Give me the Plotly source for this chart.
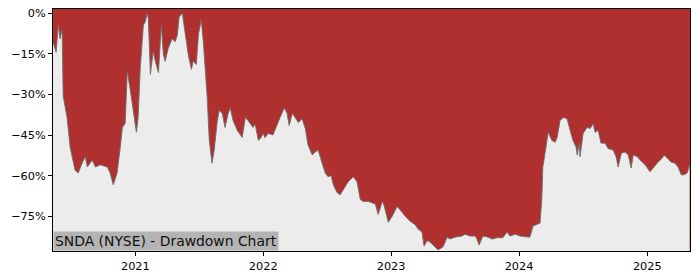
import plotly.graph_objects as go

dates = [
    "2020-05-11", "2020-05-20", "2020-05-26", "2020-05-31", "2020-06-06", "2020-06-09",
    "2020-06-20", "2020-06-29", "2020-07-13", "2020-07-22", "2020-08-02", "2020-08-11",
    "2020-08-17", "2020-08-31", "2020-09-09", "2020-09-23", "2020-10-13", "2020-10-21",
    "2020-10-30", "2020-11-10", "2020-11-19", "2020-11-25", "2020-12-03", "2020-12-09",
    "2020-12-18", "2020-12-26", "2021-01-04", "2021-01-09", "2021-01-15", "2021-01-24",
    "2021-01-29", "2021-02-04", "2021-02-07", "2021-02-13", "2021-02-21", "2021-02-27",
    "2021-03-08", "2021-03-16", "2021-03-22", "2021-03-27", "2021-04-05", "2021-04-16",
    "2021-04-25", "2021-05-01", "2021-05-06", "2021-05-15", "2021-05-23", "2021-06-01",
    "2021-06-10", "2021-06-15", "2021-06-24", "2021-06-30", "2021-07-08", "2021-07-14",
    "2021-07-25", "2021-07-31", "2021-08-08", "2021-08-14", "2021-08-23", "2021-08-28",
    "2021-09-06", "2021-09-14", "2021-09-23", "2021-09-29", "2021-10-07", "2021-10-19",
    "2021-11-02", "2021-11-11", "2021-11-19", "2021-12-03", "2021-12-09", "2021-12-18",
    "2021-12-26", "2022-01-01", "2022-01-06", "2022-01-15", "2022-01-29", "2022-02-10",
    "2022-02-18", "2022-03-02", "2022-03-10", "2022-03-16", "2022-03-25", "2022-04-02",
    "2022-04-11", "2022-04-22", "2022-05-01", "2022-05-09", "2022-05-21", "2022-05-29",
    "2022-06-07", "2022-06-18", "2022-06-27", "2022-07-05", "2022-07-14", "2022-07-20",
    "2022-07-31", "2022-08-09", "2022-08-17", "2022-08-31", "2022-09-15", "2022-09-26",
    "2022-10-05", "2022-10-13", "2022-10-28", "2022-11-08", "2022-11-17", "2022-11-25",
    "2022-12-07", "2022-12-12", "2022-12-24", "2023-01-04", "2023-01-18", "2023-01-26",
    "2023-02-10", "2023-02-24", "2023-03-10", "2023-03-19", "2023-03-30", "2023-04-05",
    "2023-04-14", "2023-04-22", "2023-05-06", "2023-05-15", "2023-05-29", "2023-06-10",
    "2023-06-18", "2023-07-02", "2023-07-22", "2023-07-31", "2023-08-14", "2023-08-29",
    "2023-09-03", "2023-09-09", "2023-09-20", "2023-10-05", "2023-10-16", "2023-10-30",
    "2023-11-16", "2023-11-28", "2023-12-06", "2023-12-21", "2024-01-04", "2024-01-24",
    "2024-02-01", "2024-02-10", "2024-02-21", "2024-03-01", "2024-03-06", "2024-03-09",
    "2024-03-18", "2024-03-24", "2024-04-04", "2024-04-13", "2024-04-19", "2024-04-27",
    "2024-05-06", "2024-05-17", "2024-05-26", "2024-06-03", "2024-06-12", "2024-06-15",
    "2024-06-21", "2024-06-23", "2024-07-02", "2024-07-13", "2024-07-22", "2024-07-31",
    "2024-08-05", "2024-08-14", "2024-08-22", "2024-09-03", "2024-09-11", "2024-09-26",
    "2024-10-04", "2024-10-10", "2024-10-19", "2024-10-30", "2024-11-08", "2024-11-16",
    "2024-11-22", "2024-12-04", "2024-12-12", "2024-12-26", "2025-01-09", "2025-01-18",
    "2025-01-29", "2025-02-13", "2025-02-18", "2025-02-27", "2025-03-10", "2025-03-21",
    "2025-03-30", "2025-04-08", "2025-04-16", "2025-04-25", "2025-05-02",
]

drawdown = [
    -10.6, -14.5, -4.4, -9.5, -6.2, -30.6,
    -38.5, -49.5, -58.0, -59.0, -55.4, -53.0,
    -56.8, -54.3, -56.8, -56.0, -56.8, -59.0,
    -63.4, -59.0, -49.5, -42.2, -40.8, -21.5,
    -28.8, -36.0, -44.0, -38.5, -20.4, -4.4,
    -3.3, 0.0, -2.0, -22.6, -14.2, -17.8,
    -22.0, -4.4, -15.3, -17.8, -13.0, -9.5,
    -10.6, -8.0, -1.5, 0.0, -8.0, -15.3,
    -20.8, -17.8, -19.0, -8.0, -2.5, -10.6,
    -31.0, -47.0, -55.4, -50.6, -39.7, -36.0,
    -37.0, -42.2, -37.0, -35.0, -39.7, -43.3,
    -45.9, -38.5, -39.7, -42.2, -41.0, -47.0,
    -45.9, -44.4, -46.0, -44.4, -45.0, -40.8,
    -38.5, -35.0, -37.0, -41.5, -37.0, -38.5,
    -40.4, -39.0, -42.6, -48.8, -52.4, -51.3,
    -50.6, -55.4, -59.0, -60.4, -60.0, -63.4,
    -66.3, -67.0, -65.2, -62.3, -60.4, -62.3,
    -68.8, -69.5, -69.5, -70.0, -70.5, -74.3,
    -69.5, -71.0, -77.2, -75.0, -71.4, -72.5,
    -75.0, -76.8, -78.0, -79.7, -80.8, -86.0,
    -84.0, -84.5, -86.3, -87.4, -86.3, -82.7,
    -83.4, -82.7, -82.3, -81.6, -82.3, -82.3,
    -83.4, -85.6, -82.3, -82.7, -83.4, -82.9,
    -82.9, -80.8, -82.3, -81.6, -82.3, -82.7,
    -82.7, -78.6, -78.0, -77.5, -68.8, -56.8,
    -49.5, -44.0, -47.0, -47.7, -45.9, -39.7,
    -38.5, -39.0, -43.3, -47.0, -49.5, -52.4,
    -48.0, -53.0, -44.4, -42.2, -42.6, -40.8,
    -44.0, -43.3, -48.0, -48.0, -50.0, -50.6,
    -53.0, -56.8, -51.7, -51.3, -52.4, -57.2,
    -52.4, -53.0, -54.3, -56.0, -58.6, -57.2,
    -55.4, -53.5, -52.4, -53.5, -55.0, -55.4,
    -56.8, -59.7, -59.7, -59.0, -56.0,
]

y_tick_vals = [0, -15, -30, -45, -60, -75]
y_tick_text = ["0%", "\u221215%", "\u221230%", "\u221245%", "\u221260%", "\u221275%"]
x_range = ["2020-05-11", "2025-05-03"]
y_range = [-87.8, 1.5]
title_text = "SNDA (NYSE) - Drawdown Chart"

RED = "rgb(176,48,48)"
GRAY_BG = "rgb(236,236,236)"
FLOOR = -200

fig = go.Figure()
fig.add_trace(go.Scatter(
    x=dates, y=[FLOOR] * len(dates), mode="lines",
    line=dict(width=0), hoverinfo="skip", showlegend=False,
))
fig.add_trace(go.Scatter(
    x=dates, y=drawdown, mode="lines", fill="tonexty",
    fillcolor=GRAY_BG, line=dict(color="rgba(110,110,110,0.9)", width=1),
    showlegend=False,
))

fig.add_annotation(
    xref="paper", yref="paper", x=0, y=0, xanchor="left", yanchor="bottom",
    text=title_text, showarrow=False, bgcolor="rgb(180,180,180)",
    font=dict(family="DejaVu Sans", size=13.9, color="#111111"),
    borderpad=1,
)

fig.update_layout(
    width=700, height=280,
    margin=dict(l=53, r=10, t=7, b=28),
    paper_bgcolor="white", plot_bgcolor=RED,
    font=dict(family="DejaVu Sans", size=11.3, color="black"),
    showlegend=False,
)
fig.update_xaxes(
    type="date", range=x_range, showgrid=False, zeroline=False,
    showline=True, linecolor="black", linewidth=1, mirror=True,
    ticks="outside", ticklen=4, tickcolor="black",
    tick0="2021-01-01", dtick="M12", tickformat="%Y",
)
fig.update_yaxes(
    range=y_range, showgrid=False, zeroline=False,
    showline=True, linecolor="black", linewidth=1, mirror=True,
    ticks="outside", ticklen=4, tickcolor="black",
    tickvals=y_tick_vals, ticktext=y_tick_text,
)

fig.write_html("out.html")
